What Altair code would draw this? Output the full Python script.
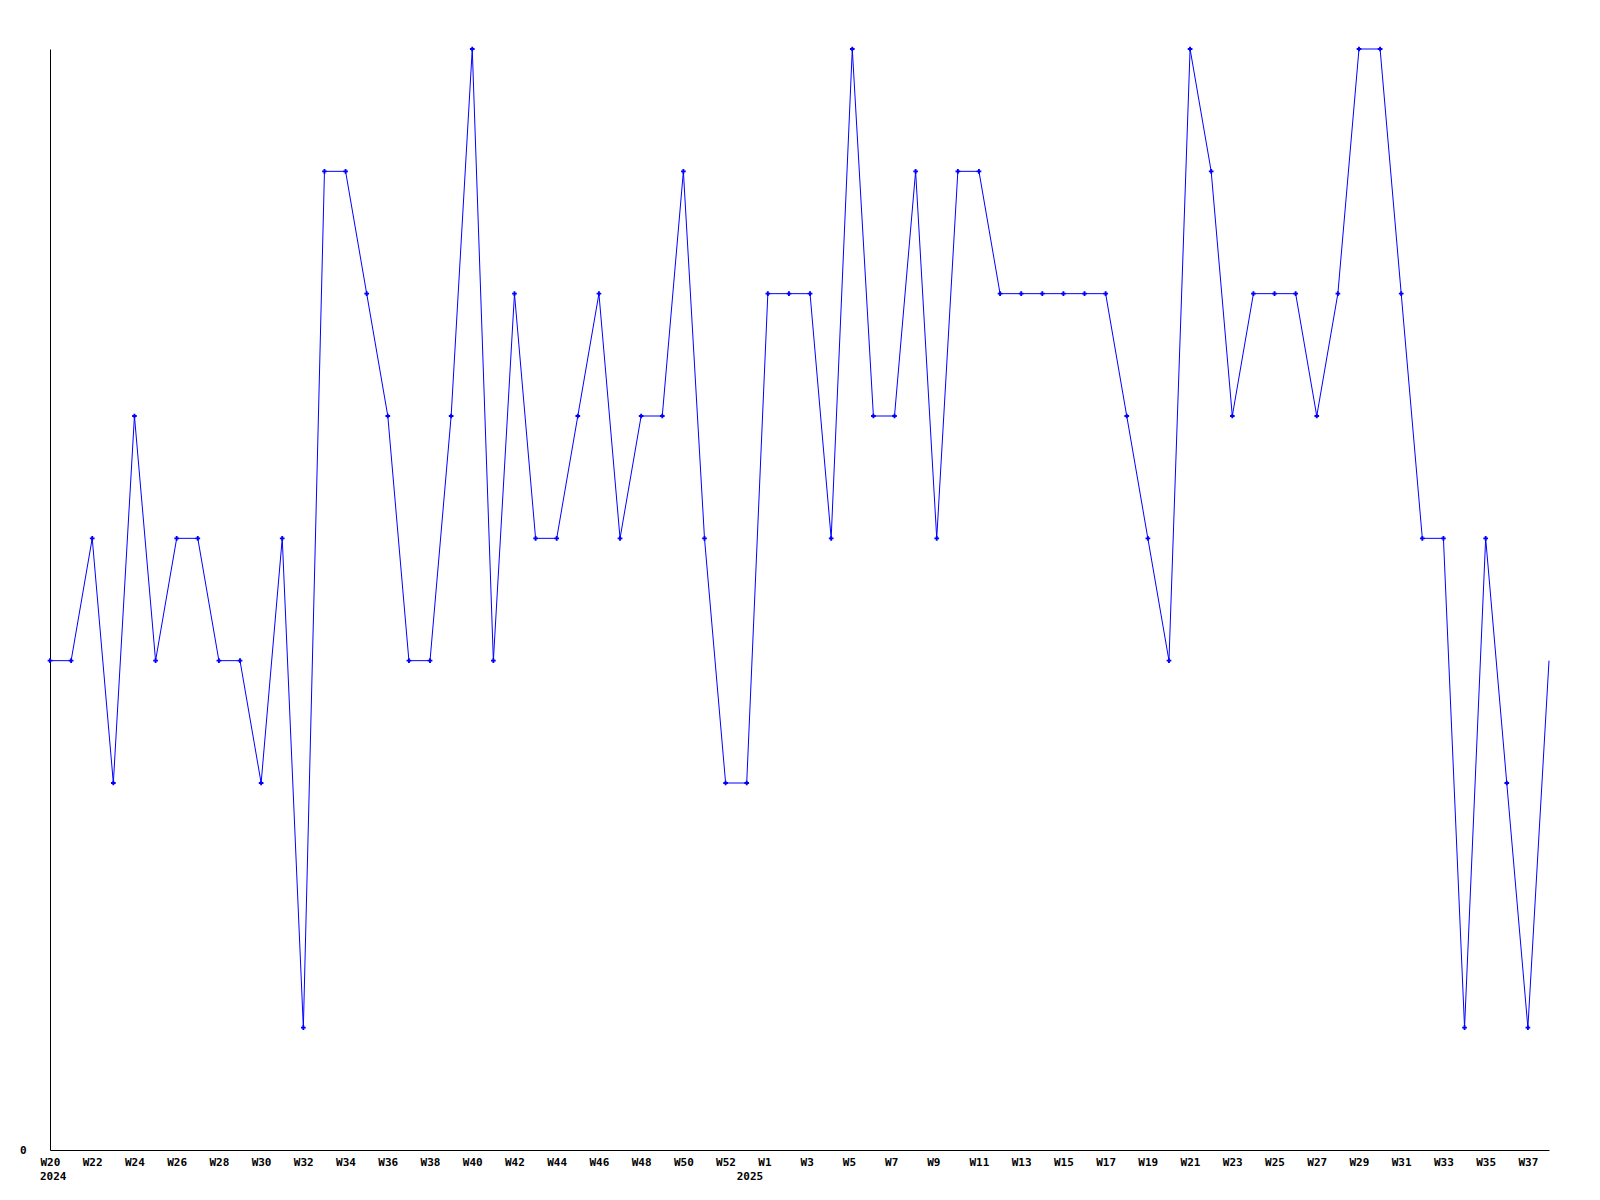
import json
import altair as alt
import pandas as pd

weeks = ["W20", "W21", "W22", "W23", "W24", "W25", "W26", "W27", "W28", "W29",
         "W30", "W31", "W32", "W33", "W34", "W35", "W36", "W37", "W38", "W39",
         "W40", "W41", "W42", "W43", "W44", "W45", "W46", "W47", "W48", "W49",
         "W50", "W51", "W52", "W53",
         "W1", "W2", "W3", "W4", "W5", "W6", "W7", "W8", "W9", "W10",
         "W11", "W12", "W13", "W14", "W15", "W16", "W17", "W18", "W19", "W20",
         "W21", "W22", "W23", "W24", "W25", "W26", "W27", "W28", "W29", "W30",
         "W31", "W32", "W33", "W34", "W35", "W36", "W37", "W38"]
values = [4, 4, 5, 3, 6, 4, 5, 5, 4, 4,
          3, 5, 1, 8, 8, 7, 6, 4, 4, 6,
          9, 4, 7, 5, 5, 6, 7, 5, 6, 6,
          8, 5, 3, 3, 7, 7, 7, 5, 9, 6,
          6, 8, 5, 8, 8, 7, 7, 7, 7, 7,
          7, 6, 5, 4, 9, 8, 6, 7, 7, 7,
          6, 7, 9, 9, 7, 5, 5, 1, 5, 3,
          1, 4]
tick_pos = [0, 2, 4, 6, 8, 10, 12, 14, 16, 18, 20, 22, 24, 26, 28, 30, 32,
            34, 36, 38, 40, 42, 44, 46, 48, 50, 52, 54, 56, 58, 60, 62, 64, 66, 68, 70]
year_labels = ["2024", "2025"]
year_pos = [0, 33]

df = pd.DataFrame({"i": list(range(len(values))), "week": weeks, "v": values})
ydf = pd.DataFrame({"pos": year_pos, "year": year_labels})

FONT = "DejaVu Sans Mono"
W, H = 1499, 1101

xscale = alt.Scale(domain=[0, 71], nice=False, zero=False)
yscale = alt.Scale(domain=[0, 9], nice=False, zero=True)

xaxis = alt.Axis(values=tick_pos, labelExpr=json.dumps(weeks) + "[datum.value]",
                 ticks=False, tickSize=0, grid=False, title=None,
                 labelAlign="left", labelOffset=-10, labelPadding=6,
                 labelBaseline="top", labelOverlap=False, labelFlush=False)
yaxis = alt.Axis(values=[0], format="d", ticks=False, tickSize=0, grid=False, title=None,
                 labelPadding=24, labelBaseline="middle")

base = alt.Chart(df)
line = base.mark_line(color="#0000ff", strokeWidth=1).encode(
    x=alt.X("i:Q", scale=xscale, axis=xaxis),
    y=alt.Y("v:Q", scale=yscale, axis=yaxis),
)
pts = base.transform_filter("datum.i < 71").mark_point(
    shape="cross", filled=True, size=22, color="#0000ff", opacity=1
).encode(
    x=alt.X("i:Q", scale=xscale),
    y=alt.Y("v:Q", scale=yscale),
)
yrs = alt.Chart(ydf).mark_text(
    align="left", dx=-10, baseline="middle", font=FONT, fontSize=11,
    fontWeight="bold", color="black"
).encode(
    x=alt.X("pos:Q", scale=xscale),
    y=alt.value(H + 27),
    text="year:N",
)

chart = alt.layer(line, pts, yrs).properties(
    width=W, height=H,
    autosize=alt.AutoSizeParams(type="none"),
    padding={"left": 42, "top": 41, "right": 40, "bottom": 40},
).configure_view(stroke=None).configure_axis(
    domainColor="black", domainWidth=1, labelColor="black",
    labelFont=FONT, labelFontSize=11, labelFontWeight="bold",
)

chart.save("out.html", embed_options={"renderer": "svg", "actions": False})
